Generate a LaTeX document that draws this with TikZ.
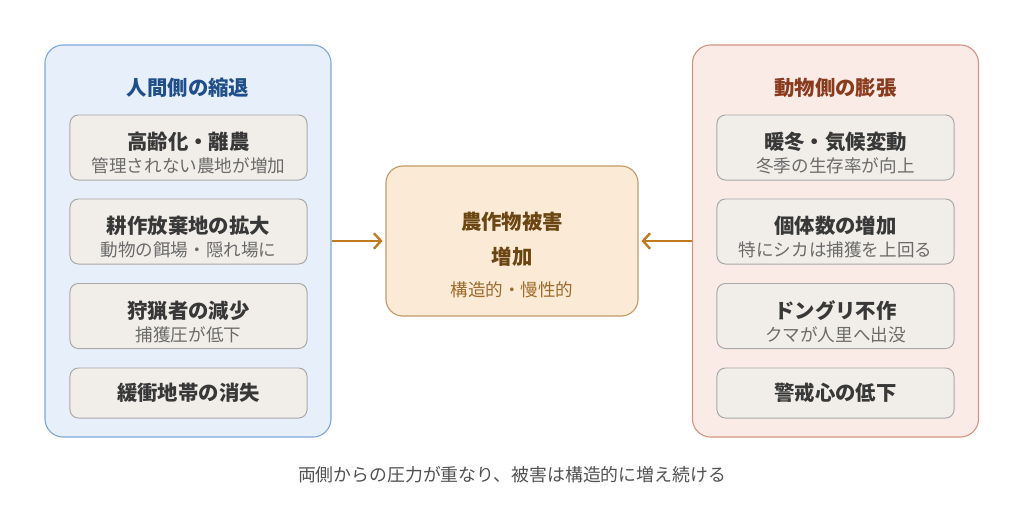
\documentclass[tikz,border=0pt]{standalone}
\usepackage{fontspec}
\setmainfont{Noto Sans CJK JP}
\usepackage{xcolor}
\usetikzlibrary{arrows.meta}
\definecolor{humanfill}{HTML}{E7F0FA}
\definecolor{humanline}{HTML}{7FA8D8}
\definecolor{humantext}{HTML}{1F4E8A}
\definecolor{animalfill}{HTML}{FAEBE7}
\definecolor{animalline}{HTML}{D49482}
\definecolor{animaltext}{HTML}{8A3B1E}
\definecolor{itemfill}{HTML}{F1EEE9}
\definecolor{itemline}{HTML}{A8A8A8}
\definecolor{damagefill}{HTML}{FBEBD6}
\definecolor{damageline}{HTML}{C29A66}
\definecolor{damagetext}{HTML}{6B4512}
\definecolor{damagesub}{HTML}{A06A2C}
\definecolor{pressure}{HTML}{C27A1E}
\tikzset{
  panel/.style={draw, line width=0.8pt, rounded corners=13pt, minimum width=7.15cm, minimum height=9.8cm},
  factor/.style={draw=itemline, fill=itemfill, line width=0.7pt, rounded corners=6pt, minimum width=5.925cm},
  paneltitle/.style={font=\fontsize{14.5}{17}\selectfont\bfseries},
  factorhead/.style={text=black!78, font=\fontsize{14.5}{17}\selectfont\bfseries},
  factorsub/.style={text=black!58, font=\fontsize{12.5}{15}\selectfont},
  push/.style={line width=1.7pt, color=pressure, -{Straight Barb[length=5pt,width=11pt]}}
}
\begin{document}
\begin{tikzpicture}[x=0.025cm, y=-0.025cm]
	\useasboundingbox[fill=white] (0,0) rectangle (1024,513);
	%
	% human side
	\node[panel, draw=humanline, fill=humanfill] (human) at (188,241) {};
	\node[paneltitle, text=humantext] (humantitle) at (188,88) {人間側の縮退};
	\node[factor, minimum height=1.625cm] (aging) at (188.5,147.5) {};
	\node[factorhead] (agingh) at (188.5,142) {高齢化・離農};
	\node[factorsub] (agings) at (188.5,166) {管理されない農地が増加};
	\node[factor, minimum height=1.625cm] (fallow) at (188.5,231.5) {};
	\node[factorhead] (fallowh) at (188.5,226) {耕作放棄地の拡大};
	\node[factorsub] (fallows) at (188.5,250) {動物の餌場・隠れ場に};
	\node[factor, minimum height=1.625cm] (hunter) at (188.5,316) {};
	\node[factorhead] (hunterh) at (188.5,310.5) {狩猟者の減少};
	\node[factorsub] (hunters) at (188.5,334.5) {捕獲圧が低下};
	\node[factor, minimum height=1.25cm] (buffer) at (188.5,393) {};
	\node[factorhead] (bufferh) at (188.5,393) {緩衝地帯の消失};
	%
	% animal side
	\node[panel, draw=animalline, fill=animalfill] (animal) at (835.5,241) {};
	\node[paneltitle, text=animaltext] (animaltitle) at (835.5,88) {動物側の膨張};
	\node[factor, minimum height=1.625cm] (winter) at (835.5,147.5) {};
	\node[factorhead] (winterh) at (835.5,142) {暖冬・気候変動};
	\node[factorsub] (winters) at (835.5,166) {冬季の生存率が向上};
	\node[factor, minimum height=1.625cm] (count) at (835.5,231.5) {};
	\node[factorhead] (counth) at (835.5,226) {個体数の増加};
	\node[factorsub] (counts) at (835.5,250) {特にシカは捕獲を上回る};
	\node[factor, minimum height=1.625cm] (acorn) at (835.5,316) {};
	\node[factorhead] (acornh) at (835.5,310.5) {ドングリ不作};
	\node[factorsub] (acorns) at (835.5,334.5) {クマが人里へ出没};
	\node[factor, minimum height=1.25cm] (wary) at (835.5,393) {};
	\node[factorhead] (waryh) at (835.5,393) {警戒心の低下};
	%
	% damage in the middle
	\node[draw=damageline, fill=damagefill, line width=0.8pt, rounded corners=12pt, minimum width=6.3cm, minimum height=3.75cm] (damage) at (512,241) {};
	\node[text=damagetext, font=\fontsize{14.5}{17}\selectfont\bfseries] (damageh) at (512,222) {農作物被害};
	\node[text=damagetext, font=\fontsize{14.5}{17}\selectfont\bfseries] (damagei) at (512,257) {増加};
	\node[text=damagesub, font=\fontsize{12.5}{15}\selectfont] (damages) at (512,290) {構造的・慢性的};
	%
	% pressure arrows
	\draw[push] (human.east) -- ([xshift=-2pt]damage.west);
	\draw[push] (animal.west) -- ([xshift=2pt]damage.east);
	%
	% caption
	\node[text=black!68, font=\fontsize{12.7}{15}\selectfont] (caption) at (512,475) {両側からの圧力が重なり、被害は構造的に増え続ける};
\end{tikzpicture}
\end{document}
